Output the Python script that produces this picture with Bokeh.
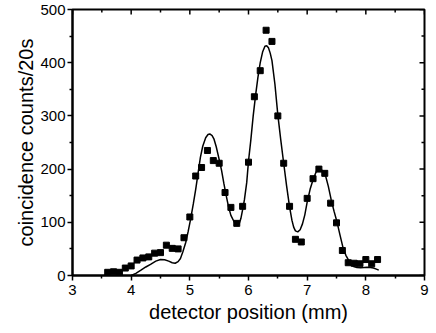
import math
from bokeh.plotting import figure
from bokeh.models import FixedTicker, Range1d
from bokeh.embed import file_html
from bokeh.resources import INLINE

# measured data (detector position in mm, coincidence counts per 20 s)
pos = [3.6, 3.7, 3.8, 3.9, 4.0, 4.1, 4.2, 4.3, 4.4, 4.5, 4.6, 4.7, 4.8, 4.9,
       5.0, 5.1, 5.2, 5.3, 5.4, 5.5, 5.6, 5.7, 5.8, 5.9, 6.0, 6.1, 6.2, 6.3,
       6.4, 6.5, 6.6, 6.7, 6.8, 6.9, 7.0, 7.1, 7.2, 7.3, 7.4, 7.5, 7.6, 7.7,
       7.8, 7.9, 8.0, 8.1, 8.2]
counts = [6, 7, 6, 14, 18, 29, 33, 35, 42, 43, 57, 51, 50, 71,
          110, 187, 203, 235, 216, 211, 156, 128, 98, 130, 213, 336, 385, 461,
          440, 300, 211, 130, 68, 63, 145, 182, 200, 192, 136, 99, 47, 24,
          23, 22, 30, 22, 30]

# theory curve
fit_x = [4.00, 4.08, 4.16, 4.25, 4.33, 4.42, 4.50, 4.57, 4.64, 4.70, 4.75, 4.80,
         4.84, 4.88, 4.93, 4.97, 5.01, 5.06, 5.10, 5.14, 5.18, 5.22, 5.27, 5.31,
         5.34, 5.38, 5.41, 5.45, 5.49, 5.54, 5.58, 5.62, 5.66, 5.70, 5.75, 5.79,
         5.81, 5.84, 5.87, 5.90, 5.93, 5.97, 6.00, 6.04, 6.08, 6.12, 6.16, 6.20,
         6.24, 6.28, 6.31, 6.34, 6.37, 6.40, 6.45, 6.50, 6.55, 6.60, 6.65, 6.70,
         6.74, 6.77, 6.80, 6.84, 6.88, 6.92, 6.96, 7.00, 7.05, 7.10, 7.15, 7.21,
         7.25, 7.31, 7.36, 7.41, 7.46, 7.51, 7.56, 7.61, 7.66, 7.71, 7.75, 7.79,
         7.85, 7.91, 7.97, 8.02, 8.08, 8.13, 8.18, 8.22]
fit_y = [0, 4, 9.5, 16, 21, 27, 30, 29.5, 27, 24, 23, 26,
         32, 44, 62, 82, 104, 135, 162, 192, 222, 243, 259, 265,
         266, 263, 257, 242, 223, 198, 173, 150, 129, 113, 102, 95,
         94, 97, 107, 124, 142, 175, 215, 255, 300, 338, 372, 400,
         420, 431, 432, 428, 418, 404, 360, 302, 255, 211, 168, 129,
         104, 91, 84, 82, 86, 97, 114, 138, 162, 180, 194, 201,
         198, 189, 168, 142, 120, 100, 76, 53, 38, 28, 20, 17,
         15, 14.5, 15, 15.5, 15, 14, 12, 10]

x_ticks = [3, 4, 5, 6, 7, 8, 9]
x_minor = [3.5, 4.5, 5.5, 6.5, 7.5, 8.5]
y_ticks = [0, 100, 200, 300, 400, 500]
y_minor = [50, 150, 250, 350, 450]

FONT = "Liberation Sans"

p = figure(width=436, height=333,
           x_range=Range1d(x_ticks[0], x_ticks[-1]),
           y_range=Range1d(y_ticks[0], y_ticks[-1]),
           output_backend="svg", toolbar_location=None,
           min_border_left=72, min_border_right=12,
           min_border_top=9, min_border_bottom=58)
p.grid.visible = False
p.outline_line_color = "black"
p.outline_line_width = 2
p.background_fill_color = "white"
p.border_fill_color = "white"


def style(ax, ticks, minor):
    ax.ticker = FixedTicker(ticks=ticks, minor_ticks=minor)
    ax.axis_line_width = 2
    ax.axis_line_color = "black"
    ax.major_tick_line_width = 1.5
    ax.minor_tick_line_width = 1.5
    ax.major_tick_in = 0
    ax.major_tick_out = 5
    ax.minor_tick_in = 0
    ax.minor_tick_out = 3
    ax.major_label_text_font = FONT
    ax.major_label_text_font_size = "15px"
    ax.major_label_text_color = "black"
    ax.axis_label_text_font = FONT
    ax.axis_label_text_font_size = "20px"
    ax.axis_label_text_font_style = "normal"
    ax.axis_label_text_color = "black"


xa = p.xaxis[0]
style(xa, x_ticks, x_minor)
xa.axis_label = "detector position (mm)"
xa.major_label_standoff = 4
xa.axis_label_standoff = 3

ya = p.yaxis[0]
style(ya, y_ticks, y_minor)
ya.axis_label = "coincidence counts/20s"
ya.major_label_standoff = 2
ya.axis_label_standoff = 0

# mirrored inward ticks on the top and right edges (clipped to the frame)
top_y = y_ticks[-1]
right_x = x_ticks[-1]
p.scatter(x_ticks, [top_y] * len(x_ticks), marker="dash", size=10, angle=math.pi / 2,
          line_color="black", line_width=1.5)
p.scatter(x_minor, [top_y] * len(x_minor), marker="dash", size=6, angle=math.pi / 2,
          line_color="black", line_width=1.5)
p.scatter([right_x] * len(y_ticks), y_ticks, marker="dash", size=10,
          line_color="black", line_width=1.5)
p.scatter([right_x] * len(y_minor), y_minor, marker="dash", size=6,
          line_color="black", line_width=1.5)

p.line(fit_x, fit_y, line_color="black", line_width=1.5)
p.scatter(pos, counts, marker="square", size=6, fill_color="black", line_color="black")

open("out.html", "w").write(file_html(p, INLINE))
